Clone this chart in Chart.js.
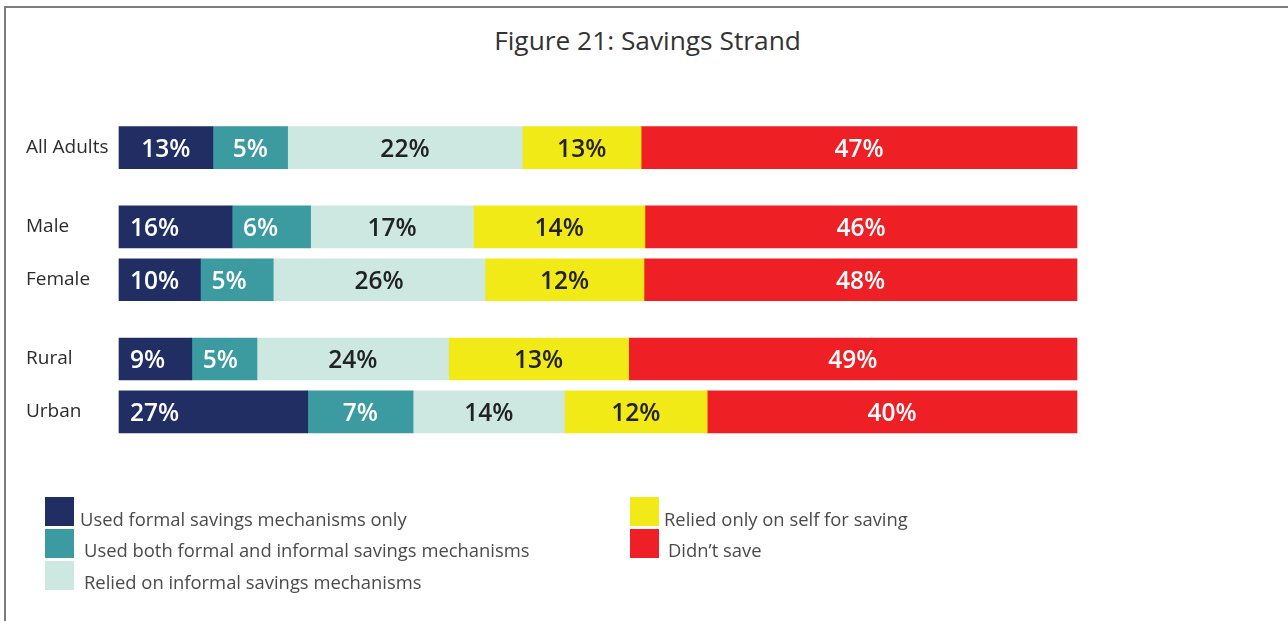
<!DOCTYPE html>
<html>
<head>
<meta charset="utf-8">
<script src="https://cdn.jsdelivr.net/npm/chart.js@4"></script>
<style>
  body { margin: 0; background: #fff; font-family: "Open Sans", sans-serif; }
  #wrap { position: relative; width: 1288px; height: 621px; overflow: hidden; }
  #frame { position: absolute; left: 4px; top: 6px; width: 1400px; height: 700px;
           border-left: 2px solid #7c7c7c; border-top: 2px solid #7c7c7c; }
  #title { position: absolute; left: 0; top: 22px; width: 1295px; text-align: center;
           font-size: 26.3px; line-height: 36px; color: #333; }
  canvas { position: absolute; left: 0; top: 0; }
  .sw { position: absolute; width: 29px; height: 29px; }
  .lt { position: absolute; font-size: 18.4px; line-height: 24px; color: #4a4a4a; white-space: nowrap; }
</style>
</head>
<body>
<div id="wrap">
  <div id="frame"></div>
  <div id="title">Figure 21: Savings Strand</div>
  <canvas id="chart" width="1288" height="621"></canvas>
  <div id="legend"></div>
</div>
<script>
// categories (rows of the chart)
const categories = ['All Adults', 'Male', 'Female', 'Rural', 'Urban'];

// bar lengths as drawn in the figure (share of the full bar)
const formalOnly  = [9.8, 11.8, 8.5, 7.6, 19.7];
const bothTypes   = [7.8, 8.2, 7.6, 6.8, 11.0];
const informal    = [24.5, 17.0, 22.1, 20.0, 15.8];
const selfOnly    = [12.4, 17.9, 16.6, 18.8, 14.9];
const didntSave   = [45.5, 45.1, 45.2, 46.8, 38.6];

// percentages printed on the bars
const formalOnlyPct = [13, 16, 10, 9, 27];
const bothTypesPct  = [5, 6, 5, 5, 7];
const informalPct   = [22, 17, 26, 24, 14];
const selfOnlyPct   = [13, 14, 12, 13, 12];
const didntSavePct  = [47, 46, 48, 49, 40];

const seriesNames = [
  'Used formal savings mechanisms only',
  'Used both formal and informal savings mechanisms',
  'Relied on informal savings mechanisms',
  'Relied only on self for saving',
  'Didn\u2019t save'
];
const colors = ['#212e64', '#3c9aa1', '#cde8e1', '#f2ea17', '#ee1f25'];
const labelColors = ['#fff', '#fff', '#222', '#222', '#fff'];

// rows sit in slots so groups get a gap between them
const rowSlots = [0, 3, 5, 8, 10];
const slotCount = 11;

function spread(arr) {
  let out = Array(slotCount).fill(null);
  rowSlots.forEach((s, i) => { out[s] = arr[i]; });
  return out;
}

let slotLabels = Array(slotCount).fill('');
rowSlots.forEach((s, i) => { slotLabels[s] = categories[i]; });

const lengths = [formalOnly, bothTypes, informal, selfOnly, didntSave];
const printed = [formalOnlyPct, bothTypesPct, informalPct, selfOnlyPct, didntSavePct];

// labels which sit at the left of their segment in the figure: [row, series]
const leftLabels = ['1-0', '1-1', '2-0', '2-1', '3-0', '3-1', '4-0'];

const datasets = lengths.map((arr, k) => ({
  label: seriesNames[k],
  data: spread(arr),
  pct: spread(printed[k]),
  backgroundColor: colors[k],
  barThickness: 42,
  borderWidth: 0,
  clip: false
}));

const barLabels = {
  id: 'barLabels',
  afterDatasetsDraw(chart) {
    const ctx = chart.ctx;
    ctx.save();
    ctx.font = '600 24.5px "Open Sans"';
    ctx.textBaseline = 'middle';
    chart.data.datasets.forEach((ds, k) => {
      const meta = chart.getDatasetMeta(k);
      meta.data.forEach((bar, i) => {
        if (ds.data[i] == null) return;
        const row = rowSlots.indexOf(i);
        ctx.fillStyle = labelColors[k];
        const txt = ds.pct[i] + '%';
        if (leftLabels.includes(row + '-' + k)) {
          ctx.textAlign = 'left';
          ctx.fillText(txt, bar.base + 11, bar.y + 2);
        } else {
          ctx.textAlign = 'center';
          ctx.fillText(txt, (bar.x + bar.base) / 2, bar.y + 2);
        }
      });
    });
    ctx.restore();
  }
};

new Chart(document.getElementById('chart'), {
  type: 'bar',
  data: { labels: slotLabels, datasets: datasets },
  plugins: [barLabels],
  options: {
    indexAxis: 'y',
    responsive: false,
    animation: false,
    layout: { padding: { left: 26, right: 211, top: 134.5, bottom: 196 } },
    plugins: { legend: { display: false }, tooltip: { enabled: false }, title: { display: false } },
    scales: {
      x: { stacked: true, min: 0, max: 100, display: false },
      y: {
        stacked: true,
        grid: { display: false },
        border: { display: false },
        afterFit(scale) { scale.width = 93; },
        ticks: {
          crossAlign: 'far',
          autoSkip: false,
          color: '#2b2b2b',
          font: { family: 'Open Sans', size: 19 }
        }
      }
    }
  }
});

// legend in two columns, as in the figure
const legendPlaces = [
  { sx: 45, sy: 497, tx: 80, ty: 507 },
  { sx: 45, sy: 529, tx: 84, ty: 538 },
  { sx: 45, sy: 561, tx: 84, ty: 570 },
  { sx: 630, sy: 497, tx: 664, ty: 507 },
  { sx: 630, sy: 529, tx: 668, ty: 538 }
];
let html = '';
seriesNames.forEach((name, k) => {
  const p = legendPlaces[k];
  html += '<div class="sw" style="left:' + p.sx + 'px;top:' + p.sy + 'px;background:' + colors[k] + '"></div>';
  html += '<div class="lt" style="left:' + p.tx + 'px;top:' + p.ty + 'px">' + name + '</div>';
});
document.getElementById('legend').innerHTML = html;
</script>
</body>
</html>
